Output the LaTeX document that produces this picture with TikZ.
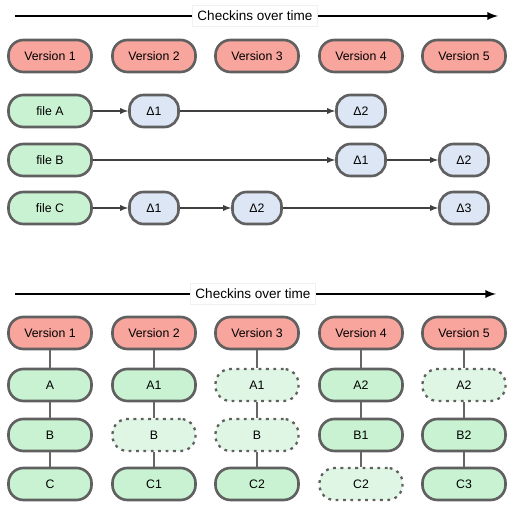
\documentclass[tikz,border=0pt]{standalone}
\usepackage{xcolor}
\usepackage{fontspec}
\setmainfont{Liberation Sans}
\usepackage{tikz}
\usetikzlibrary{shapes,arrows,positioning,calc}

\definecolor{versionred}{HTML}{F8A59D}
\definecolor{filegreen}{HTML}{C9F2D2}
\definecolor{ghostgreen}{HTML}{E0F6E5}
\definecolor{deltablue}{HTML}{DDE6F4}
\definecolor{boxgray}{HTML}{606060}

\begin{document}
\begin{tikzpicture}[scale=1.0]
  % Styles
  \tikzstyle{version} = [rectangle, rounded corners=8.5pt, fill=versionred, draw=boxgray, line width=1.5pt, minimum width=1.66cm, minimum height=0.64cm, font=\fontsize{7}{8}\selectfont]
  \tikzstyle{filebox} = [rectangle, rounded corners=8.5pt, fill=filegreen, draw=boxgray, line width=1.5pt, minimum width=1.66cm, minimum height=0.64cm, font=\fontsize{7}{8}\selectfont]
  \tikzstyle{ghost} = [rectangle, rounded corners=8.5pt, fill=ghostgreen, draw=boxgray, line width=1.3pt, dash pattern=on 1.6pt off 2.6pt, minimum width=1.66cm, minimum height=0.64cm, font=\fontsize{7}{8}\selectfont]
  \tikzstyle{delta} = [rectangle, rounded corners=8pt, fill=deltablue, draw=boxgray, line width=1.5pt, minimum width=0.98cm, minimum height=0.64cm, font=\fontsize{7}{8}\selectfont]
  \tikzstyle{timeline} = [line width=1.1pt, -latex, color=black]
  \tikzstyle{timelabel} = [rectangle, fill=white, draw=black!6, inner sep=3pt, font=\fontsize{7.7}{9}\selectfont]
  \tikzstyle{deltaflow} = [semithick, -latex, color=black!75]
  \tikzstyle{snapline} = [semithick, color=black!60]

  \useasboundingbox (0,0) rectangle (10.38,10.34);

  % Top: deltas over time
  \coordinate (tstart) at (0.30, 10.02);
  \coordinate (tend) at (9.96, 10.02);
  \draw[timeline] (tstart) -- (tend);
  \node[timelabel] (tlabel) at (5.10, 10.02) {Checkins over time};

  \node[version] (v1) at (1.00, 9.22) {Version 1};
  \node[version] (v2) at (3.08, 9.22) {Version 2};
  \node[version] (v3) at (5.14, 9.22) {Version 3};
  \node[version] (v4) at (7.22, 9.22) {Version 4};
  \node[version] (v5) at (9.28, 9.22) {Version 5};

  \node[filebox] (fileA) at (1.00, 8.12) {file A};
  \node[filebox] (fileB) at (1.00, 7.14) {file B};
  \node[filebox] (fileC) at (1.00, 6.18) {file C};

  \node[delta] (a1) at (3.08, 8.12) {Δ1};
  \node[delta] (a2) at (7.22, 8.12) {Δ2};
  \node[delta] (b1) at (7.22, 7.14) {Δ1};
  \node[delta] (b2) at (9.28, 7.14) {Δ2};
  \node[delta] (c1) at (3.08, 6.18) {Δ1};
  \node[delta] (c2) at (5.14, 6.18) {Δ2};
  \node[delta] (c3) at (9.28, 6.18) {Δ3};

  \draw[deltaflow] (fileA) -- (a1);
  \draw[deltaflow] (a1) -- (a2);
  \draw[deltaflow] (fileB) -- (b1);
  \draw[deltaflow] (b1) -- (b2);
  \draw[deltaflow] (fileC) -- (c1);
  \draw[deltaflow] (c1) -- (c2);
  \draw[deltaflow] (c2) -- (c3);

  % Bottom: snapshots over time
  \coordinate (bstart) at (0.30, 4.46);
  \coordinate (bend) at (9.92, 4.46);
  \draw[timeline] (bstart) -- (bend);
  \node[timelabel] (blabel) at (5.06, 4.46) {Checkins over time};

  \node[version] (s1) at (1.00, 3.68) {Version 1};
  \node[version] (s2) at (3.08, 3.68) {Version 2};
  \node[version] (s3) at (5.14, 3.68) {Version 3};
  \node[version] (s4) at (7.22, 3.68) {Version 4};
  \node[version] (s5) at (9.28, 3.68) {Version 5};

  \node[filebox] (s1a) at (1.00, 2.64) {A};
  \node[filebox] (s1b) at (1.00, 1.64) {B};
  \node[filebox] (s1c) at (1.00, 0.66) {C};

  \node[filebox] (s2a) at (3.08, 2.64) {A1};
  \node[ghost] (s2b) at (3.08, 1.64) {B};
  \node[filebox] (s2c) at (3.08, 0.66) {C1};

  \node[ghost] (s3a) at (5.14, 2.64) {A1};
  \node[ghost] (s3b) at (5.14, 1.64) {B};
  \node[filebox] (s3c) at (5.14, 0.66) {C2};

  \node[filebox] (s4a) at (7.22, 2.64) {A2};
  \node[filebox] (s4b) at (7.22, 1.64) {B1};
  \node[ghost] (s4c) at (7.22, 0.66) {C2};

  \node[ghost] (s5a) at (9.28, 2.64) {A2};
  \node[filebox] (s5b) at (9.28, 1.64) {B2};
  \node[filebox] (s5c) at (9.28, 0.66) {C3};

  \draw[snapline] (s1) -- (s1a); \draw[snapline] (s1a) -- (s1b); \draw[snapline] (s1b) -- (s1c);
  \draw[snapline] (s2) -- (s2a); \draw[snapline] (s2a) -- (s2b); \draw[snapline] (s2b) -- (s2c);
  \draw[snapline] (s3) -- (s3a); \draw[snapline] (s3a) -- (s3b); \draw[snapline] (s3b) -- (s3c);
  \draw[snapline] (s4) -- (s4a); \draw[snapline] (s4a) -- (s4b); \draw[snapline] (s4b) -- (s4c);
  \draw[snapline] (s5) -- (s5a); \draw[snapline] (s5a) -- (s5b); \draw[snapline] (s5b) -- (s5c);

\end{tikzpicture}
\end{document}
